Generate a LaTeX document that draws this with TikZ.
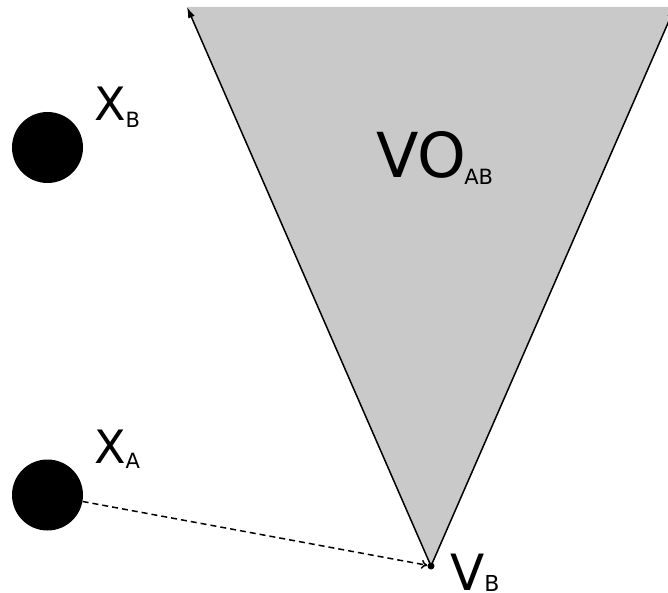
\documentclass[tikz,border=0pt]{standalone}
\usepackage{fontspec}
\setmainfont{DejaVu Sans}
\usetikzlibrary{arrows.meta}
\definecolor{voGray}{RGB}{201,201,202}
\begin{document}
\begin{tikzpicture}[x=1pt,y=-1pt,
  body/.style={circle,fill=black,inner sep=0pt,minimum size=71pt},
  edge/.style={line width=1.5pt},
  lbl/.style={inner sep=0pt,anchor=base west}]
\useasboundingbox (0,0) rectangle (668,593);
\clip (0,0) rectangle (668,593);
% velocity obstacle cone
\coordinate (apex) at (431,566);
\coordinate (tl) at (187,7);
\coordinate (tr) at (675,7);
\fill[voGray] (apex) -- (tl) -- (tr) -- cycle;
\node[circle,fill=black,inner sep=0pt,minimum size=7pt] (vb) at (apex) {};
\draw[edge,-{Latex[length=11pt,width=7pt]}] (apex) -- (tl);
\draw[edge,-{Latex[length=11pt,width=7pt]}] (apex) -- (tr);
% agents
\node[body] (xb) at (47.5,147.5) {};
\node[body] (xa) at (47.5,495) {};
\draw[edge,dash pattern=on 6pt off 4pt,-{To[length=6pt,width=9pt]}] (xa) -- (vb);
% labels
\node[lbl,font=\fontsize{46}{46}\selectfont] (lxb) at (94,121) {X\raisebox{-7pt}{\fontsize{21}{21}\selectfont B}};
\node[lbl,font=\fontsize{46}{46}\selectfont] (lxa) at (94,463) {X\raisebox{-5pt}{\fontsize{21}{21}\selectfont A}};
\node[lbl,font=\fontsize{62}{62}\selectfont] (lvo) at (376,178) {VO\kern-2pt\raisebox{-7pt}{\fontsize{21}{21}\selectfont AB}};
\node[lbl,font=\fontsize{50}{50}\selectfont] (lvb) at (450,590) {V\raisebox{-1pt}{\fontsize{22}{22}\selectfont B}};
\end{tikzpicture}
\end{document}
